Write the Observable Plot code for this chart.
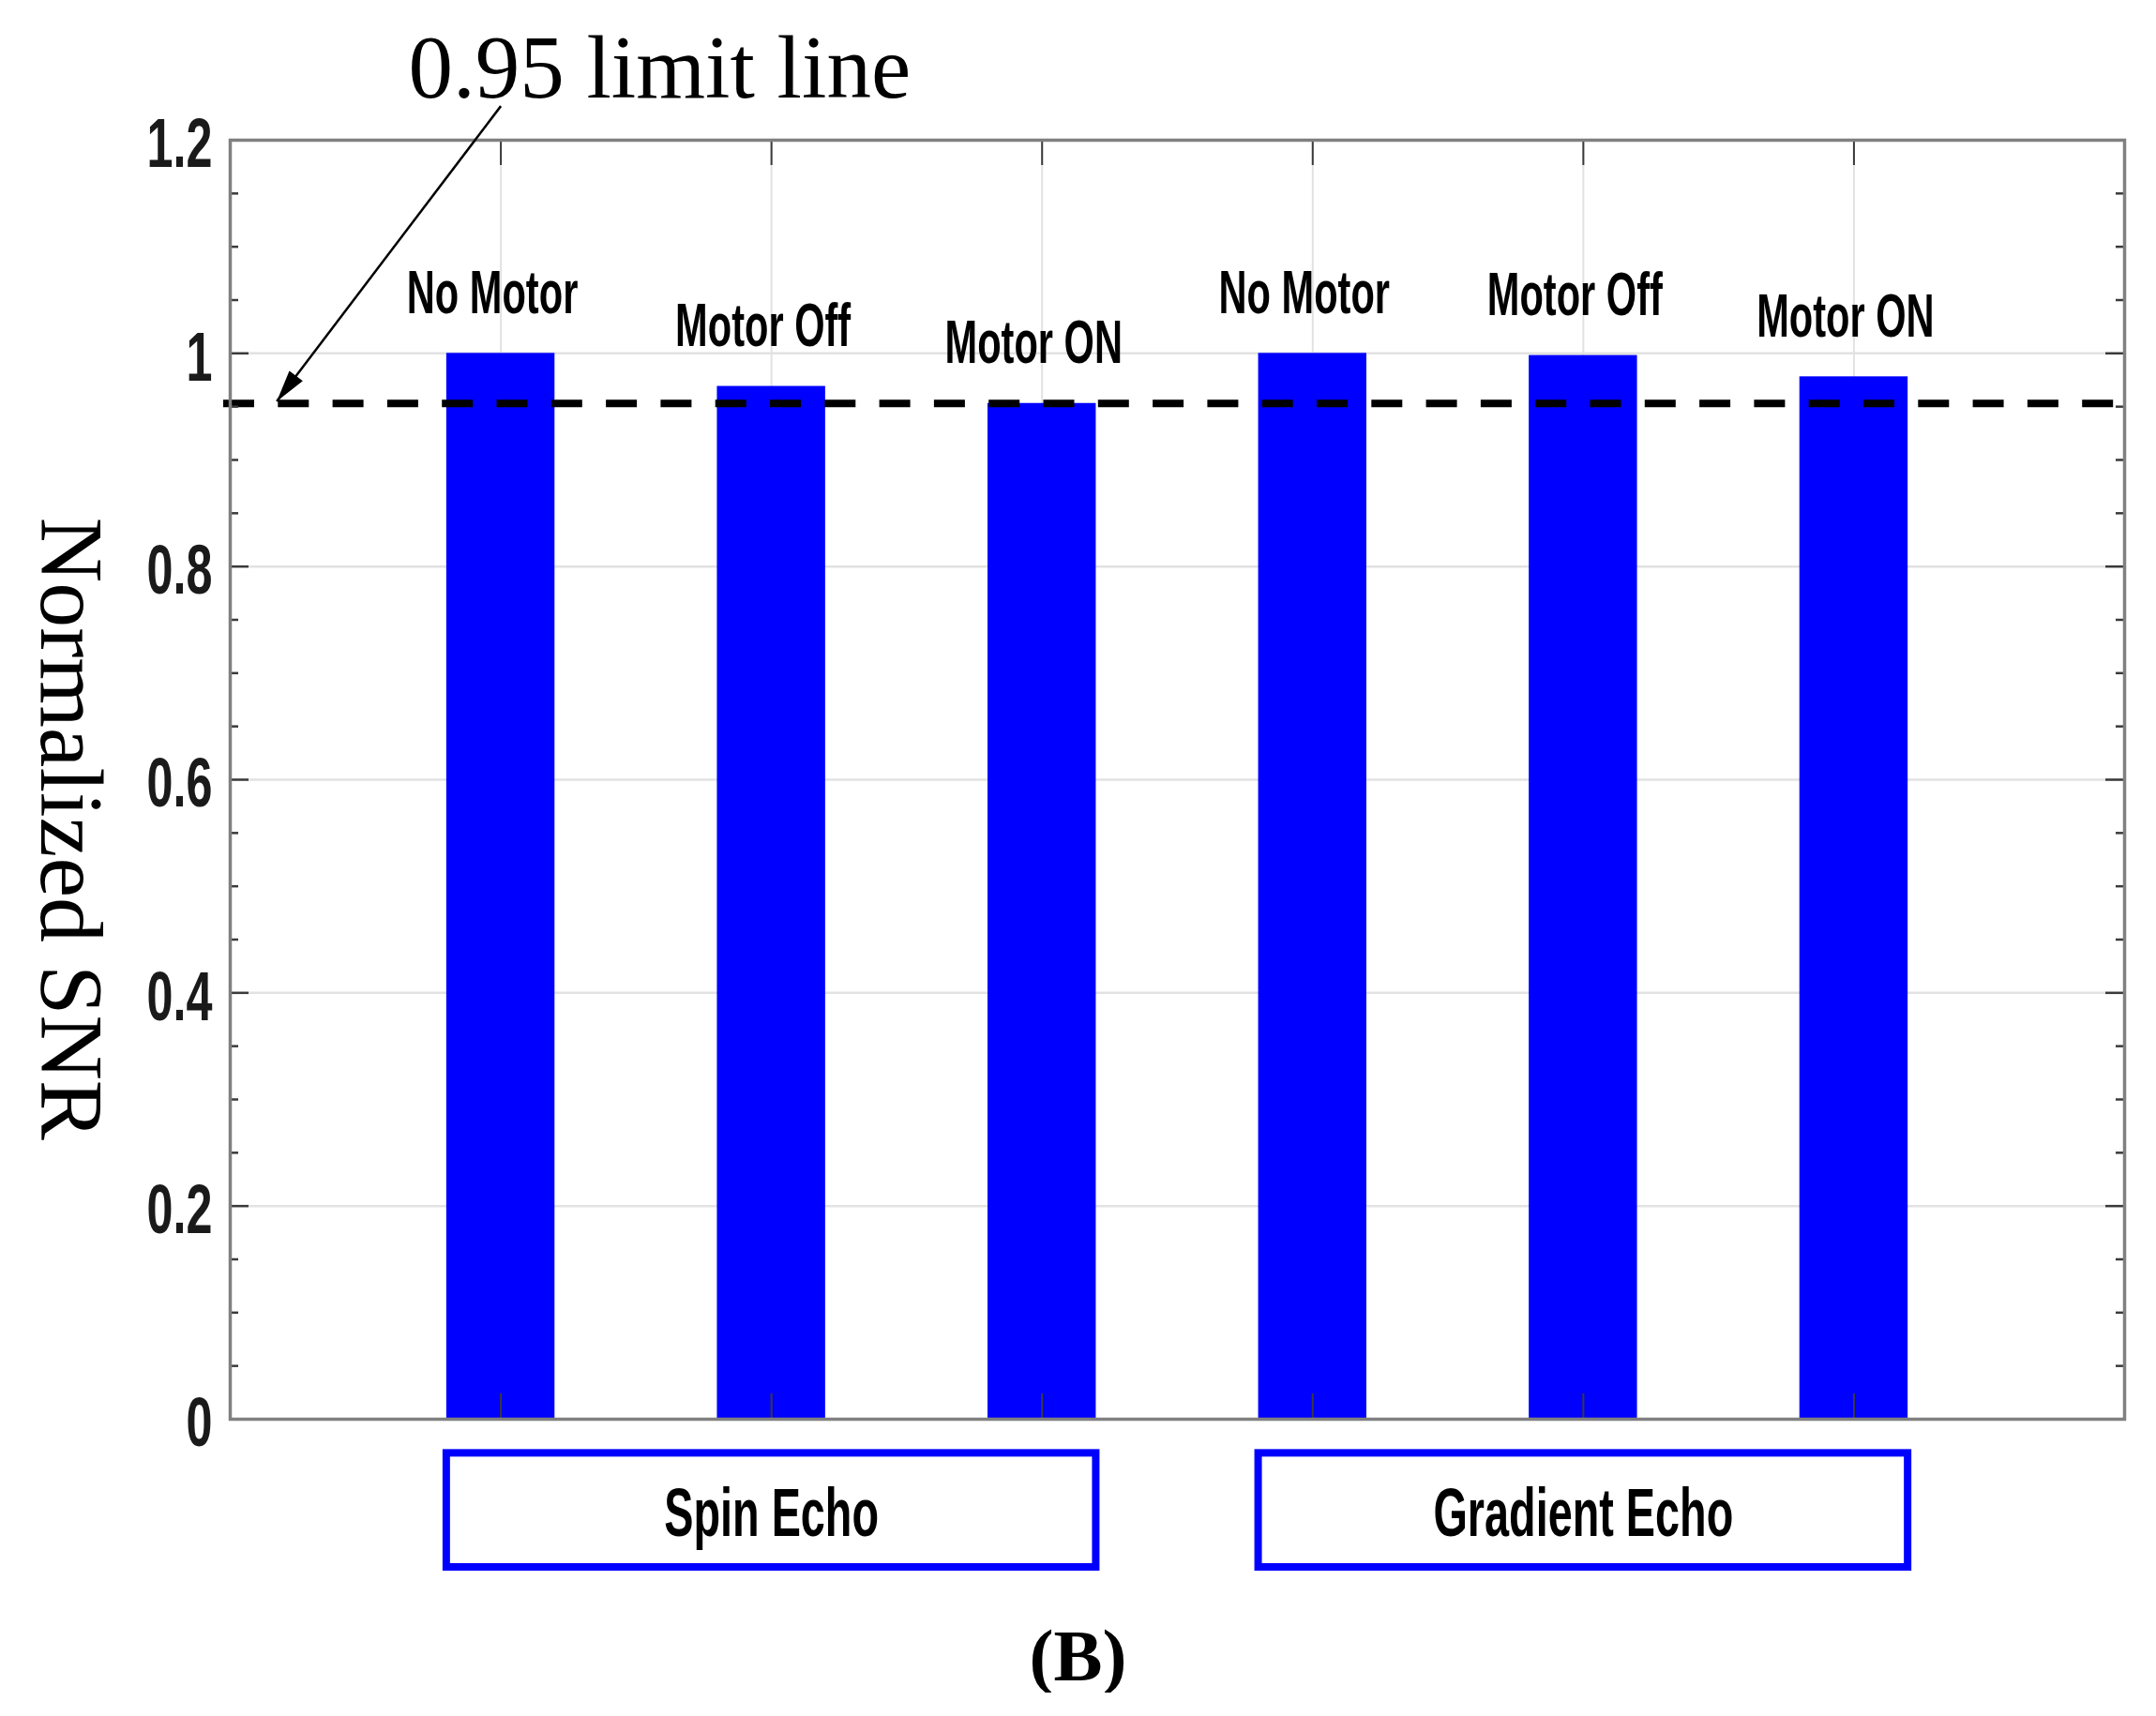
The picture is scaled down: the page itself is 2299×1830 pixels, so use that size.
<!DOCTYPE html>
<html><head><meta charset="utf-8">
<script src="https://cdn.jsdelivr.net/npm/d3@7"></script>
<script src="https://cdn.jsdelivr.net/npm/@observablehq/plot@0.6"></script>
<style>
html,body{margin:0;padding:0;background:#fff;}
#chart svg{display:block;}
#caption{width:2299px;text-align:center;font-family:"Liberation Serif","Times New Roman",serif;font-weight:bold;font-size:78px;line-height:1;padding-top:27px;color:#000;}
</style></head><body>
<div id="chart"></div>
<div id="caption"></div>
<script>
// ---- data ----
const categories = ["No Motor", "Motor Off", "Motor ON", "No Motor", "Motor Off", "Motor ON"];
const sequences  = ["Spin Echo", "Spin Echo", "Spin Echo", "Gradient Echo", "Gradient Echo", "Gradient Echo"];
const snrValues  = [1.0, 0.969, 0.953, 1.0, 0.998, 0.978];
const groups = ["Spin Echo", "Gradient Echo"];
const limitValue = 0.953;
const limitLabel = "0.95 limit line";
const yLabel = "Normalized SNR";
const yTickValues = [0, 0.2, 0.4, 0.6, 0.8, 1, 1.2];
const yTickLabels = ["0", "0.2", "0.4", "0.6", "0.8", "1", "1.2"];
const xTickValues = [1, 2, 3, 4, 5, 6];
const captionText = "(B)";

// ---- layout / style ----
const W = 2299, H = 1700, mL = 245, mR = 34, mT = 149, mB = 187;
const innerW = W - mL - mR, innerH = H - mT - mB;
const barHalf = 0.2;
const blue = "#0000ff";
const sans = "'Liberation Sans', Arial, Helvetica, sans-serif";
const serif = "'Liberation Serif', 'Times New Roman', serif";
// horizontal condensing per font size (bar labels 64, tick labels 74, group labels 72)
const squeezeBySize = {"64": 0.65, "74": 0.68, "72": 0.65};

const bars = categories.map((c, i) => ({pos: i + 1, label: c, group: sequences[i], value: snrValues[i]}));
const groupBoxes = groups.map(g => {
  const ps = bars.filter(b => b.group === g).map(b => b.pos);
  return {group: g, x1: d3.min(ps) - barHalf, x2: d3.max(ps) + barHalf};
});
const boxTop = -0.032, boxBottom = -0.139;
const yMinor = d3.range(1, 24).filter(i => i % 4 !== 0).map(i => i * 0.05);
const annotation = {tx: 0.658, ty: 1.2396, ax1: 1.0, ay1: 1.232, ax2: 0.172, ay2: 0.955};
const yLabelCenter = 0.554;

function filledArrow(color, context) {
  const doc = (context && context.document) || document;
  const ns = "http://www.w3.org/2000/svg";
  const m = doc.createElementNS(ns, "marker");
  m.setAttribute("viewBox", "-36 -11 38 22");
  m.setAttribute("markerUnits", "userSpaceOnUse");
  m.setAttribute("markerWidth", "38");
  m.setAttribute("markerHeight", "22");
  m.setAttribute("refX", "0");
  m.setAttribute("refY", "0");
  m.setAttribute("orient", "auto");
  const p = doc.createElementNS(ns, "path");
  p.setAttribute("d", "M-34,-9L0,0L-34,9Z");
  p.setAttribute("fill", color);
  p.setAttribute("stroke", "none");
  m.appendChild(p);
  return m;
}

let arrowMark;
try {
  arrowMark = Plot.link([annotation], {x1: "ax1", y1: "ay1", x2: "ax2", y2: "ay2", stroke: "#000", strokeWidth: 2.5, markerEnd: filledArrow});
} catch (e) {
  arrowMark = Plot.arrow([annotation], {x1: "ax1", y1: "ay1", x2: "ax2", y2: "ay2", stroke: "#000", strokeWidth: 3, headLength: 34, headAngle: 30});
}

const tickColor = "#3a3a3a";
const plot = Plot.plot({
  width: W, height: H,
  marginLeft: mL, marginRight: mR, marginTop: mT, marginBottom: mB,
  x: {type: "linear", domain: [0, 7], axis: null},
  y: {type: "linear", domain: [0, 1.2], axis: null},
  style: {background: "#fff", fontFamily: sans, overflow: "visible"},
  marks: [
    // grid
    Plot.ruleX(xTickValues, {x: d => d, stroke: "#e2e2e2", strokeWidth: 2}),
    Plot.ruleY(yTickValues.slice(1, -1), {y: d => d, stroke: "#e2e2e2", strokeWidth: 2.5}),
    // bars
    Plot.rect(bars, {x1: d => d.pos - barHalf, x2: d => d.pos + barHalf, y1: 0, y2: "value", fill: blue}),
    // limit line
    Plot.ruleY([limitValue], {y: d => d, stroke: "#000", strokeWidth: 8, strokeDasharray: "33,25.3", insetLeft: -7, insetRight: -5}),
    // ticks (inward)
    Plot.tickY(yTickValues, {y: d => d, insetRight: innerW - 20, stroke: tickColor, strokeWidth: 2.5}),
    Plot.tickY(yTickValues, {y: d => d, insetLeft: innerW - 20, stroke: tickColor, strokeWidth: 2.5}),
    Plot.tickY(yMinor, {y: d => d, insetRight: innerW - 9, stroke: tickColor, strokeWidth: 2.5}),
    Plot.tickY(yMinor, {y: d => d, insetLeft: innerW - 9, stroke: tickColor, strokeWidth: 2.5}),
    Plot.tickX(xTickValues, {x: d => d, insetTop: innerH - 27, stroke: tickColor, strokeWidth: 2}),
    Plot.tickX(xTickValues, {x: d => d, insetBottom: innerH - 27, stroke: tickColor, strokeWidth: 2}),
    // frame
    Plot.frame({stroke: "#808080", strokeWidth: 3.5}),
    // y tick labels
    Plot.text(yTickValues, {frameAnchor: "left", y: d => d, text: (d, i) => yTickLabels[i], textAnchor: "end", lineAnchor: "middle", dx: -19, dy: 5, fontSize: 74, fontWeight: "bold", fontFamily: sans, fill: "#1a1a1a"}),
    // bar labels
    Plot.text(bars, {x: "pos", y: "value", text: "label", lineAnchor: "bottom", dy: -43, dx: -9, fontSize: 64, fontWeight: "bold", fontFamily: sans, fill: "#000"}),
    // group boxes
    Plot.rect(groupBoxes, {x1: "x1", x2: "x2", y1: boxTop, y2: boxBottom, fill: "#fff", stroke: blue, strokeWidth: 8}),
    Plot.text(groupBoxes, {x: d => (d.x1 + d.x2) / 2, y: () => (boxTop + boxBottom) / 2, text: "group", lineAnchor: "middle", dy: 4, fontSize: 72, fontWeight: "bold", fontFamily: sans, fill: "#000"}),
    // y label (rotated +90)
    Plot.text([yLabel], {frameAnchor: "left", y: () => yLabelCenter, text: d => d, rotate: 90, dx: -202, lineAnchor: "bottom", textAnchor: "middle", fontSize: 96, fontFamily: serif, fill: "#000"}),
    // annotation
    Plot.text([limitLabel], {x: () => annotation.tx, y: () => annotation.ty, text: d => d, textAnchor: "start", lineAnchor: "bottom", fontSize: 95, fontFamily: serif, fill: "#000"}),
    arrowMark
  ]
});

document.getElementById("chart").append(plot);
document.getElementById("caption").textContent = captionText;

// condense the bold sans labels horizontally (around each label's own anchor)
plot.querySelectorAll("text").forEach(t => {
  const g = t.closest("g");
  const fam = (g && g.getAttribute("font-family")) || t.getAttribute("font-family") || "";
  const fw = (g && g.getAttribute("font-weight")) || t.getAttribute("font-weight") || "";
  if (/Serif/.test(fam) || !/bold/.test(fw)) return;
  const fs = String(parseFloat((g && g.getAttribute("font-size")) || t.getAttribute("font-size") || "0"));
  const s = squeezeBySize[fs] || 0.67;
  const tr = t.getAttribute("transform");
  if (tr) {
    t.setAttribute("transform", tr + ` scale(${s},1)`);
  } else {
    const x = +t.getAttribute("x") || 0, y = +t.getAttribute("y") || 0;
    t.removeAttribute("x"); t.removeAttribute("y");
    t.setAttribute("transform", `translate(${x},${y}) scale(${s},1)`);
  }
});
</script>
</body></html>
